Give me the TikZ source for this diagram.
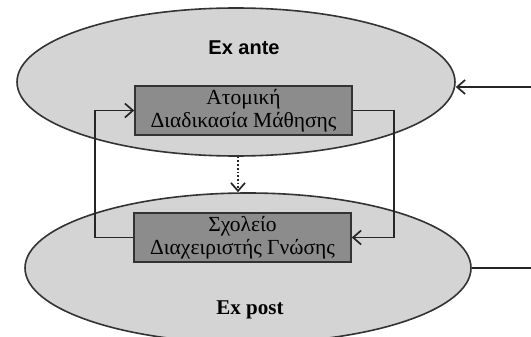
\documentclass[tikz,border=0pt]{standalone}
\usepackage{fontspec}
\setmainfont{Liberation Serif}
\newfontfamily\headsans{Liberation Sans}
\usetikzlibrary{arrows.meta,shapes.geometric}

\begin{document}
\begin{tikzpicture}[x=1pt,y=-1pt,
    zone/.style={ellipse, draw=black!80, line width=1.6pt, fill=black!17, inner sep=0pt},
    procbox/.style={rectangle, draw=black!80, line width=1.6pt, fill=black!45, inner sep=0pt,
        minimum width=217pt, minimum height=49pt, align=center,
        font=\fontsize{21.5}{23}\selectfont},
    flow/.style={draw=black!85, line width=1.7pt, -{Straight Barb[length=8pt,width=14pt]}}]
\useasboundingbox (0,0) rectangle (531,337);
\clip (0,0) rectangle (531,337);

% the two phases
\node[zone, minimum width=438pt, minimum height=148pt] (ante) at (236,82) {};
\node[zone, minimum width=446pt, minimum height=150pt] (post) at (248,268) {};
\node[font=\headsans\bfseries\fontsize{20}{23}\selectfont] (antelabel) at (244,48) {Ex ante};
\node[font=\bfseries\fontsize{21}{24}\selectfont] (postlabel) at (250,310) {Ex post};

% the two boxes
\node[procbox] (atomiki) at (243.5,110.5) {Ατομική\\Διαδικασία Μάθησης};
\node[procbox] (sxoleio) at (242.5,237.5) {Σχολείο\\Διαχειριστής Γνώσης};

% loop between them
\draw[flow] (sxoleio.west) -- ++(-38,0) |- (atomiki.west);
\draw[flow] (atomiki.east) -- ++(41,0) |- (sxoleio.east);
\draw[flow, dotted] (ante.south) ++(2,0) coordinate (dtop) -- (dtop |- post.north);

% links to the outside
\coordinate (inlink) at (531,87);
\coordinate (outlink) at (531,268);
\draw[flow] (inlink) -- (inlink -| ante.east);
\draw[draw=black!85, line width=1.7pt] (post.east) -- (outlink);
\end{tikzpicture}
\end{document}
